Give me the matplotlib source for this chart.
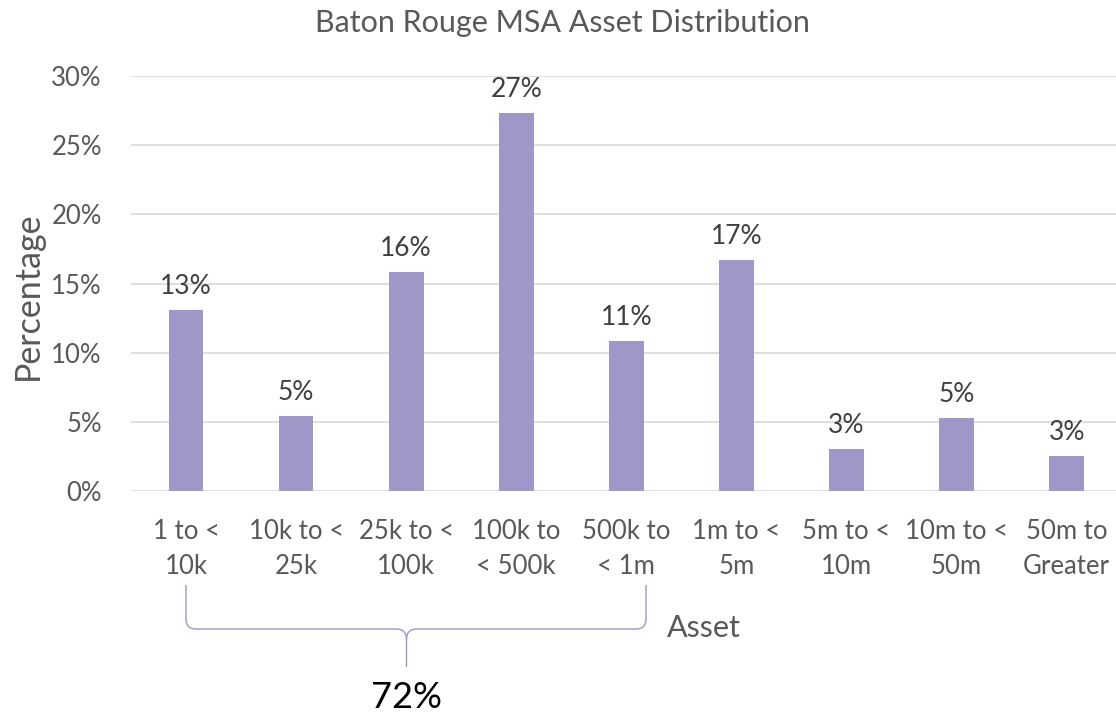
import numpy as np
import matplotlib
matplotlib.use("Agg")
import matplotlib.pyplot as plt
from matplotlib.path import Path
from matplotlib.patches import PathPatch
from matplotlib.ticker import FuncFormatter

categories = ["1 to <\n10k", "10k to <\n25k", "25k to <\n100k", "100k to\n< 500k",
              "500k to\n< 1m", "1m to <\n5m", "5m to <\n10m", "10m to <\n50m",
              "50m to\nGreater"]
shares = [13.1, 5.4, 15.8, 27.3, 10.85, 16.7, 3.06, 5.3, 2.5]
brace_span = 5   # first five asset classes grouped under the brace

plt.rcParams['font.family'] = ['Lato', 'DejaVu Sans']
bar_color = '#9f97c8'
txt_gray = '#595959'


def pct(v):
    return "%d%%" % int(v + 0.5)


fig = plt.figure(figsize=(11.16, 7.14), dpi=100)
W, H = 1116, 714
ax = fig.add_axes([131 / W, 1 - 491 / H, (W - 131) / W, (491 - 76) / H])

x = np.arange(len(categories))
bars = ax.bar(x, shares, width=0.315, color=bar_color, zorder=3)
for b, v in zip(bars, shares):
    ax.annotate(pct(v), (b.get_x() + b.get_width() / 2, v), xytext=(0, 8),
                textcoords='offset points', ha='center', va='bottom',
                fontsize=19, color='#404040')

ax.set_xlim(-0.5, (W - 186.7) / 110)
ax.set_ylim(0, 30)
ax.set_yticks(np.arange(0, 31, 5))
ax.yaxis.set_major_formatter(FuncFormatter(lambda v, _: "%d%%" % v))
ax.set_xticks(x)
ax.set_xticklabels(categories, linespacing=1.52)
ax.tick_params(axis='both', length=0, labelsize=18.5, labelcolor=txt_gray)
ax.tick_params(axis='x', pad=20)
ax.tick_params(axis='y', pad=21)
ax.grid(axis='y', color='#d9d9d9', linewidth=1.2, zorder=0)
for s in ax.spines.values():
    s.set_visible(False)

fig.text(562 / W, 1 - 23 / H, "Baton Rouge MSA Asset Distribution",
         ha='center', va='center', fontsize=22, color=txt_gray)
fig.text(28 / W, 1 - 296 / H, "Percentage", rotation=90, ha='center',
         va='center', fontsize=24.5, color=txt_gray)
fig.text(704 / W, 1 - 628 / H, "Asset", ha='center', va='center',
         fontsize=22, color=txt_gray)

# curly brace under the first five classes
xl, xr, xm = 186, 646, 406.5
yt, yh, yb, r = 585, 629, 667, 10
verts = [(xl, yt), (xl, yh - r), (xl, yh), (xl + r, yh),
         (xm - r, yh), (xm, yh), (xm, yh + r), (xm, yb),
         (xm, yh + r), (xm, yh), (xm + r, yh),
         (xr - r, yh), (xr, yh), (xr, yh - r), (xr, yt)]
codes = [Path.MOVETO, Path.LINETO, Path.CURVE3, Path.CURVE3,
         Path.LINETO, Path.CURVE3, Path.CURVE3, Path.LINETO,
         Path.MOVETO, Path.CURVE3, Path.CURVE3,
         Path.LINETO, Path.CURVE3, Path.CURVE3, Path.LINETO]
verts = [(px / W, 1 - py / H) for px, py in verts]
fig.patches.append(PathPatch(Path(verts, codes), transform=fig.transFigure,
                             fill=False, edgecolor='#9f97c8', linewidth=1.0))
fig.text(xm / W, 1 - 697 / H, pct(sum(shares[:brace_span])), ha='center',
         va='center', fontsize=26, color='black')

fig.savefig("out.png", dpi=100, facecolor='white')
